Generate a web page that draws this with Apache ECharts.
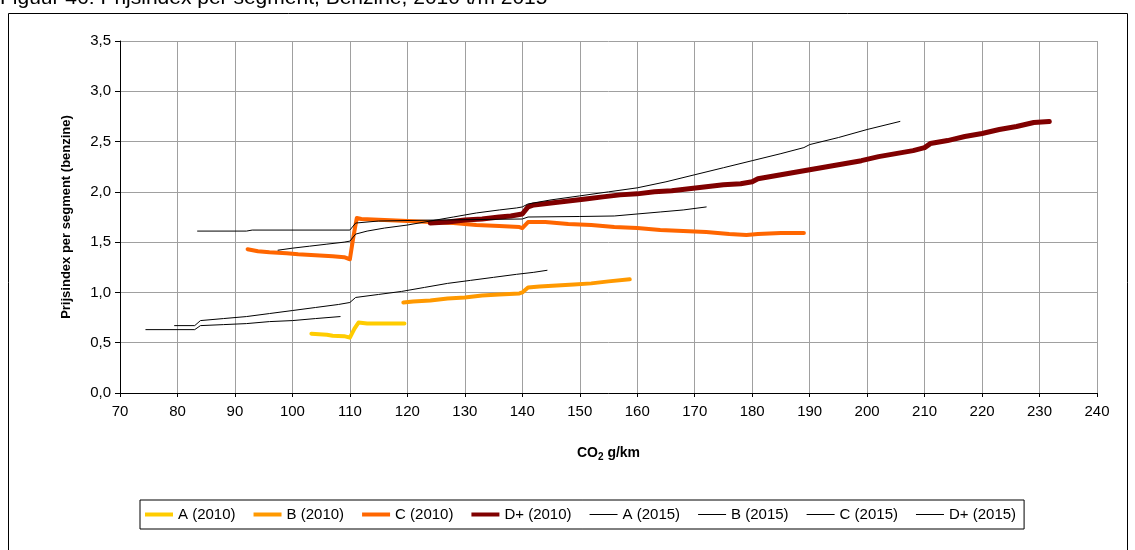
<!DOCTYPE html>
<html><head><meta charset="utf-8">
<script src="https://cdn.jsdelivr.net/npm/echarts@6/dist/echarts.min.js"></script>
<style>html,body{margin:0;padding:0;background:#fff}#c{width:1135px;height:550px}</style>
</head><body><div id="c"></div>
<script>
const titleText = 'Figuur 46: Prijsindex per segment, Benzine, 2010 t/m 2015';
const seriesNames = ['A (2010)','B (2010)','C (2010)','D+ (2010)','A (2015)','B (2015)','C (2015)','D+ (2015)'];
const a2010 = [[103.3,0.59],[106,0.58],[107,0.57],[109,0.565],[110,0.55],[110.8,0.64],[111.5,0.70],[113,0.69],[119.5,0.69]];
const b2010 = [[119.3,0.90],[121,0.91],[124,0.92],[127,0.94],[130,0.95],[133,0.97],[136,0.98],[139.5,0.99],[140,1.00],[141,1.05],[143,1.06],[146,1.07],[149,1.08],[152,1.09],[155,1.11],[158.7,1.13]];
const c2010 = [[92.2,1.43],[94,1.41],[96,1.40],[99,1.39],[101,1.38],[104,1.37],[107,1.36],[109,1.35],[110,1.33],[110.6,1.55],[111.2,1.74],[112,1.73],[116,1.72],[120,1.71],[124,1.70],[128,1.69],[132,1.67],[136,1.66],[139.5,1.65],[140,1.64],[141,1.70],[144,1.70],[148,1.68],[152,1.67],[156,1.65],[160,1.64],[164,1.62],[168,1.61],[172,1.60],[176,1.58],[179,1.57],[181,1.58],[185,1.59],[189,1.59]];
const d2010 = [[124,1.69],[127,1.70],[130,1.72],[133,1.73],[136,1.75],[138,1.76],[140,1.78],[141,1.85],[142,1.87],[145,1.89],[148,1.91],[151,1.93],[154,1.95],[157,1.97],[160,1.98],[163,2.00],[166,2.01],[169,2.03],[172,2.05],[175,2.07],[178,2.08],[180,2.10],[181,2.13],[184,2.16],[187,2.19],[190,2.22],[193,2.25],[196,2.28],[199,2.31],[202,2.35],[205,2.38],[208,2.41],[210,2.44],[211,2.48],[214,2.51],[217,2.55],[220,2.58],[223,2.62],[226,2.65],[229,2.69],[231.7,2.70]];
const a2015 = [[74.5,0.63],[83,0.63],[84,0.67],[88,0.68],[92,0.69],[96,0.71],[100,0.72],[104,0.74],[108.3,0.76]];
const b2015 = [[79.5,0.67],[83,0.67],[84,0.72],[88,0.74],[92,0.76],[96,0.79],[100,0.82],[104,0.85],[108,0.88],[110,0.90],[111,0.95],[115,0.98],[119,1.01],[123,1.05],[127,1.09],[131,1.12],[135,1.15],[139,1.18],[142,1.20],[144.3,1.22]];
const c2015 = [[83.5,1.61],[92,1.61],[93,1.62],[110,1.62],[111,1.69],[115,1.71],[125,1.72],[140,1.73],[141,1.75],[150,1.755],[156,1.76],[160,1.78],[164,1.80],[168,1.82],[172,1.85]];
const d2015 = [[97.5,1.42],[100,1.44],[103,1.46],[106,1.48],[109,1.50],[110,1.51],[111,1.58],[113,1.61],[116,1.64],[120,1.67],[124,1.71],[128,1.75],[132,1.79],[136,1.82],[139,1.84],[140,1.85],[141,1.88],[145,1.92],[150,1.96],[155,2.00],[160,2.04],[165,2.10],[170,2.17],[175,2.24],[180,2.31],[185,2.38],[189,2.44],[190,2.47],[195,2.54],[200,2.62],[205.7,2.70]];
const allData = [a2010,b2010,c2010,d2010,a2015,b2015,c2015,d2015];
const colors = ['#FFCC00','#FF9900','#FF6600','#800000','#000000','#000000','#000000','#000000'];
const widths = [4,4,4,5,1,1,1,1];

const chart = echarts.init(document.getElementById('c'));
const font = 'Liberation Sans, Arial, sans-serif';
const thickIcon = 'path://M0,0H28V4H0Z';
const thinIcon = 'path://M0,0H28V1H0Z';
chart.setOption({
  animation:false,
  textStyle:{fontFamily:font},
  graphic:[
    {type:'rect',shape:{x:8.5,y:13.5,width:1119,height:560},style:{fill:'none',stroke:'#000',lineWidth:1},silent:true},
    {type:'text',left:0,top:-12,style:{text:titleText,font:'21px '+font,fill:'#000'}}
  ],
  grid:{left:120,right:38,top:41,bottom:157},
  legend:{
    left:140,top:500,
    data:seriesNames.map((n,i)=>({name:n,icon:i<4?thickIcon:thinIcon,itemStyle:{color:colors[i]}})),
    symbolKeepAspect:true,
    borderColor:'#000',borderWidth:1,
    padding:[7,8,7,5],
    itemGap:18,itemWidth:28,itemHeight:14,
    textStyle:{fontFamily:font,fontSize:15,color:'#000'}
  },
  xAxis:{
    type:'value',min:70,max:240,interval:10,
    name:'{b|CO}{s|2}{b| g/km}',nameLocation:'middle',nameGap:52,
    nameTextStyle:{rich:{b:{fontWeight:'bold',fontSize:14,fontFamily:font,color:'#000'},s:{fontWeight:'bold',fontSize:10,fontFamily:font,color:'#000',padding:[7,0,0,0]}}},
    axisLine:{onZero:false,lineStyle:{color:'#000',width:1}},
    axisTick:{show:true,length:4,lineStyle:{color:'#000'}},
    axisLabel:{color:'#000',fontSize:15,fontFamily:font,margin:11},
    splitLine:{show:true,lineStyle:{color:'#a0a0a0',width:1}}
  },
  yAxis:{
    type:'value',min:0,max:3.5,interval:0.5,
    name:'Prijsindex per segment (benzine)',nameLocation:'middle',nameGap:47,
    nameTextStyle:{fontWeight:'bold',fontSize:13,fontFamily:font,color:'#000'},
    axisLine:{show:true,lineStyle:{color:'#000',width:1}},
    axisTick:{show:true,length:5,lineStyle:{color:'#000'}},
    axisLabel:{color:'#000',fontSize:15,fontFamily:font,margin:9,formatter:v=>v.toFixed(1).replace('.',',')},
    splitLine:{show:true,lineStyle:{color:'#a0a0a0',width:1}}
  },
  series:allData.map((d,i)=>({
    name:seriesNames[i],type:'line',data:d,showSymbol:false,symbol:'none',
    lineStyle:{color:colors[i],width:widths[i],cap:'round',join:'round'},
    itemStyle:{color:colors[i]},
    z:i<4?3:4
  }))
});
</script></body></html>
